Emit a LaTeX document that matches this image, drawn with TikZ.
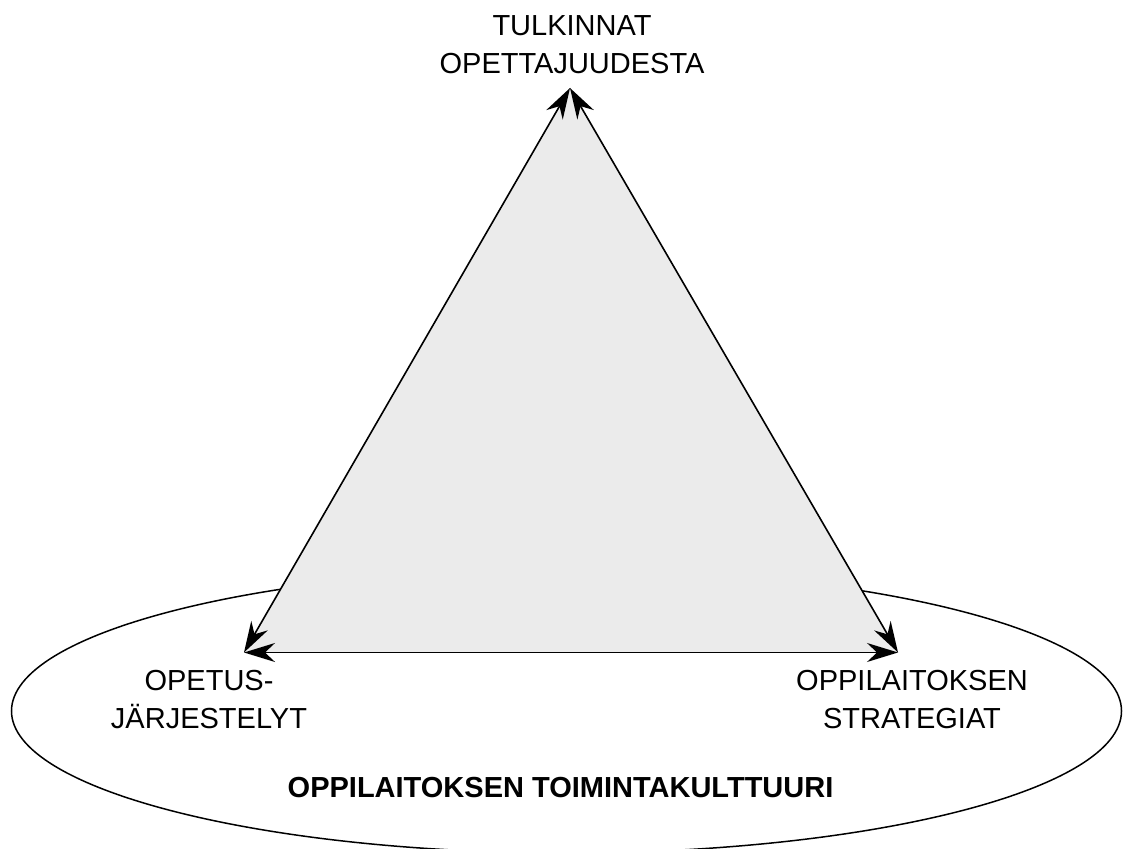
\documentclass[tikz,border=0pt]{standalone}
\usepackage{fontspec}
\setmainfont{Liberation Sans}
\usetikzlibrary{arrows.meta}
\definecolor{trifill}{HTML}{EBEBEB}
\tikzset{
  lbl/.style={inner sep=0pt, align=center, font=\fontsize{29}{38}\selectfont},
  boldlbl/.style={inner sep=0pt, font=\fontsize{29}{38}\selectfont\bfseries},
  sidearrow/.style={line width=1.6pt, {Stealth[length=31pt,width=19pt,inset=10pt]}-{Stealth[length=31pt,width=19pt,inset=10pt]}},
  culture/.style={line width=1.5pt}
}
\begin{document}
\begin{tikzpicture}[x=1pt,y=1pt]
\useasboundingbox (0,0) rectangle (1123,848);
\clip (0,0) rectangle (1123,848);
\draw[culture] (566.5,137) ellipse [x radius=555, y radius=142];
\coordinate (A) at (570,760);
\coordinate (B) at (244,195.5);
\coordinate (C) at (898,195.5);
\fill[trifill] (A) -- (B) -- (C) -- cycle;
\draw[sidearrow] (A) -- (B);
\draw[sidearrow] (B) -- (C);
\draw[sidearrow] (C) -- (A);
\node[lbl, anchor=north] (top) at (572,833) {TULKINNAT\\OPETTAJUUDESTA};
\node[lbl, anchor=north] (left) at (209,177.5) {OPETUS-\\JÄRJESTELYT};
\node[lbl, anchor=north] (right) at (912,178) {OPPILAITOKSEN\\STRATEGIAT};
\node[boldlbl, anchor=base] (culturelbl) at (560.5,51) {OPPILAITOKSEN TOIMINTAKULTTUURI};
\end{tikzpicture}
\end{document}
